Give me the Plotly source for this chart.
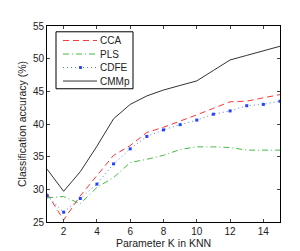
import plotly.graph_objects as go

K = list(range(1, 16))
cca = [29.4, 25.3, 29.0, 32.1, 35.2, 36.7, 38.7, 39.5, 40.4, 41.4, 42.4, 43.4, 43.5, 44.0, 44.5]
pls = [28.7, 28.9, 27.8, 30.3, 31.8, 34.1, 34.6, 35.2, 36.1, 36.5, 36.5, 36.4, 36.0, 36.0, 36.0]
cdfe = [29.0, 26.5, 28.6, 30.8, 33.9, 36.2, 38.1, 39.1, 39.9, 40.6, 41.5, 42.0, 42.8, 43.0, 43.5]
cmmp = [33.1, 29.7, 32.7, 36.6, 40.8, 43.0, 44.3, 45.2, 45.9, 46.6, 48.2, 49.8, 50.5, 51.2, 51.9]
names = ["CCA", "PLS", "CDFE", "CMMp"]

xticks = [2, 4, 6, 8, 10, 12, 14]
yticks = [25, 30, 35, 40, 45, 50, 55]

styles = [
    dict(color="#ff3333", width=1, dash="6px,4px"),
    dict(color="#44bb44", width=1, dash="6px,3px,1px,3px"),
    dict(color="#5577ff", width=1, dash="1px,3px"),
    dict(color="#333333", width=1, dash="solid"),
]

fig = go.Figure()
for name, vals, st in zip(names, [cca, pls, cdfe, cmmp], styles):
    mode = "lines+markers" if name == "CDFE" else "lines"
    fig.add_trace(go.Scatter(x=K, y=vals, name=name, mode=mode, line=st,
                             marker=dict(color="#2244ff", size=3, symbol="square"),
                             showlegend=False))

# manual legend (plot area: px x 39..272, y 18..221)
def px_x(p):
    return (p - 39) / 233.0

def px_y(p):
    return (221 - p) / 203.0

shapes = [dict(type="rect", xref="paper", yref="paper",
               x0=px_x(48), x1=px_x(125), y0=px_y(83), y1=px_y(24),
               line=dict(color="black", width=1), fillcolor="white", layer="above")]
annotations = []
rows = [33, 47, 61, 75]
for name, st, ry in zip(names, styles, rows):
    shapes.append(dict(type="line", xref="paper", yref="paper",
                       x0=px_x(55), x1=px_x(89), y0=px_y(ry), y1=px_y(ry),
                       line=dict(color=st["color"], width=1, dash=st["dash"]), layer="above"))
    annotations.append(dict(xref="paper", yref="paper", x=px_x(91), y=px_y(ry),
                            text=name, showarrow=False, xanchor="left", yanchor="middle",
                            xshift=-1, font=dict(size=10, color="#222")))
shapes.append(dict(type="rect", xref="paper", yref="paper",
                   x0=px_x(71.5), x1=px_x(73.5), y0=px_y(62), y1=px_y(60),
                   line=dict(color="#2244ff", width=1), fillcolor="#2244ff", layer="above"))

font = dict(family="Liberation Sans, Arial, sans-serif", size=10, color="#222")
fig.update_layout(
    width=300, height=251,
    margin=dict(l=39, r=28, t=18, b=30),
    paper_bgcolor="white", plot_bgcolor="white",
    font=font,
    showlegend=False,
    shapes=shapes,
    annotations=annotations,
    xaxis=dict(range=[1, 15], tickvals=xticks, ticks="inside", ticklen=3,
               showline=True, linecolor="black", linewidth=1, mirror="ticks",
               showgrid=False, zeroline=False,
               title=dict(text="Parameter K in KNN", standoff=3, font=dict(size=10.5))),
    yaxis=dict(range=[25, 55], tickvals=yticks, ticks="inside", ticklen=3,
               showline=True, linecolor="black", linewidth=1, mirror="ticks",
               showgrid=False, zeroline=False,
               title=dict(text="Classification accuracy (%)", standoff=4, font=dict(size=10.5))),
)
fig.write_html("out.html")
